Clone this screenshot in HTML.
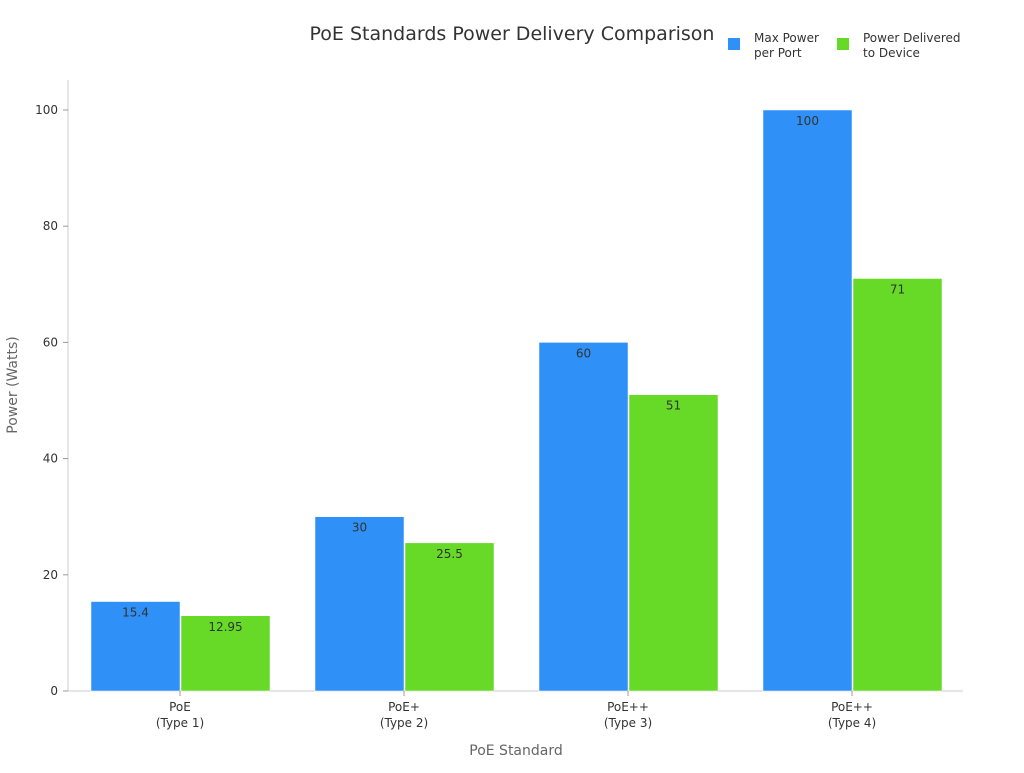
<!DOCTYPE html>
<html><head><meta charset="utf-8"><style>
body{margin:0;background:#fff;font-family:"Liberation Sans","DejaVu Sans",sans-serif;}
svg text{font-family:"DejaVu Sans","Liberation Sans",sans-serif;}
</style></head><body>
<svg width="1024" height="768" id="c">
<text x="512" y="40" text-anchor="middle" font-size="19" fill="#333">PoE Standards Power Delivery Comparison</text>
<g>
<rect x="728" y="38" width="12" height="12" fill="#2f91f7"/>
<text x="754" y="42" font-size="12" fill="#333">Max Power</text>
<text x="754" y="57" font-size="12" fill="#333">per Port</text>
<rect x="837" y="38" width="12" height="12" fill="#66da26"/>
<text x="863" y="42" font-size="12" fill="#333">Power Delivered</text>
<text x="863" y="57" font-size="12" fill="#333">to Device</text>
</g>
<line x1="68" y1="80" x2="68" y2="691" stroke="#ccc"/>
<line x1="68" y1="691" x2="963" y2="691" stroke="#ccc"/>
<text transform="translate(17,385) rotate(-90)" text-anchor="middle" font-size="14" fill="#666">Power (Watts)</text>
<text x="516" y="755" text-anchor="middle" font-size="14" fill="#666">PoE Standard</text>
<g id="marks"></g>
</svg>
<script>
const categories=[["PoE","(Type 1)"],["PoE+","(Type 2)"],["PoE++","(Type 3)"],["PoE++","(Type 4)"]];
const maxPower=[15.4,30,60,100];
const delivered=[12.95,25.5,51,71];
const yTicks=[0,20,40,60,80,100];
const g=document.getElementById('marks');
const NS="http://www.w3.org/2000/svg";
function y(v){return 691-v*5.81;}
function xc(i){return 180+i*224;}
function mk(t,a){const e=document.createElementNS(NS,t);for(const k in a)e.setAttribute(k,a[k]);g.appendChild(e);return e;}
yTicks.forEach(v=>{
 const l=mk('line',{x1:63,x2:68,y1:y(v),y2:y(v),stroke:'#999'});
 
 
 const t=mk('text',{x:58,y:y(v)+4,'text-anchor':'end','font-size':12,fill:'#333'});t.textContent=v;
 
 
});
categories.forEach((c,i)=>{
 const cx=xc(i);
 [[maxPower[i],cx-89,'#2f91f7','bar-max-power'],[delivered[i],cx+1,'#66da26','bar-delivered']].forEach(([v,x,col,n])=>{
  const r=mk('rect',{x:x,y:y(v),width:89,height:y(0)-y(v),fill:col,stroke:'#fff','stroke-width':0.5});
  
  
  const t=mk('text',{x:x+44.5,y:y(v)+15,'text-anchor':'middle','font-size':12,fill:'#333'});t.textContent=v;
  
  
 });
 const tk=mk('line',{x1:cx,x2:cx,y1:691,y2:696,stroke:'#999'});
 
 
 c.forEach((s,j)=>{const t=mk('text',{x:cx,y:711+j*16,'text-anchor':'middle','font-size':12,fill:'#333'});t.textContent=s;
 
 });
});
</script>
</body></html>
